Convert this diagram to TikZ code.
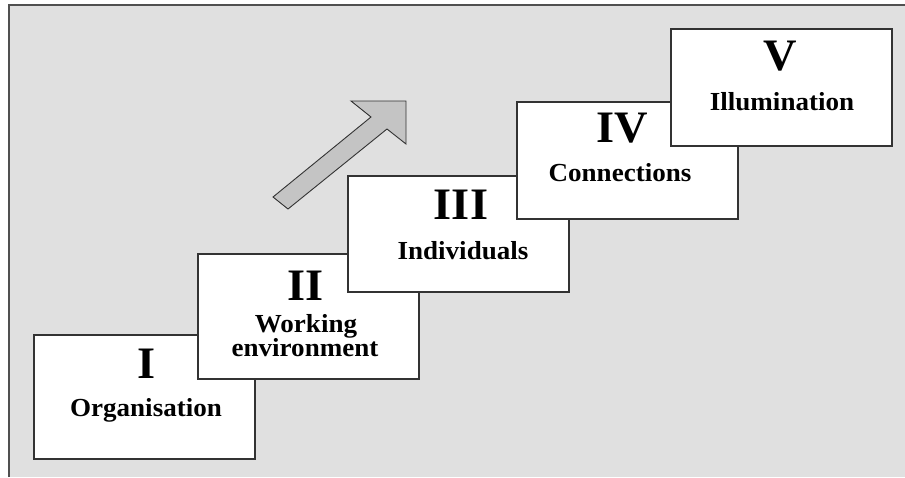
\documentclass[tikz,border=0pt]{standalone}
\usepackage{fontspec}
\setmainfont{Liberation Serif}
\definecolor{bgcol}{HTML}{E0E0E0}
\definecolor{arrowfill}{HTML}{C4C4C4}
\definecolor{boxline}{HTML}{333333}
\definecolor{framecol}{HTML}{505050}
\begin{document}
\begin{tikzpicture}[x=1pt,y=-1pt,
  stage/.style={draw=boxline,line width=1.5pt,fill=white,rectangle,inner sep=0pt,anchor=north west,minimum width=221pt},
  numeral/.style={font=\fontsize{45}{45}\selectfont\bfseries,anchor=base,inner sep=0pt,xscale=1.03},
  stagetext/.style={font=\fontsize{26}{26}\selectfont\bfseries,anchor=base,inner sep=0pt,xscale=1.04},
  bigarrow/.style={fill=arrowfill,draw=boxline,line width=0.9pt,line join=miter}]
\useasboundingbox (0,0) rectangle (905,477);
\fill[white] (0,0) rectangle (905,477);
\fill[bgcol] (9,5) rectangle (905,477);
\draw[framecol,line width=2pt] (9,477) -- (9,5) -- (905,5);

% arrow
\draw[bigarrow] (273,197) -- (371,117) -- (351,101) -- (406,101) -- (406,144) -- (387,129) -- (288,209) -- cycle;

% stage I
\node[stage,minimum height=124pt] (b1) at (33,334) {};
\node[numeral] (n1) at (147,378) {I};
\node[stagetext] (t1) at (146,416) {Organisation};

% stage II
\node[stage,minimum height=125pt] (b2) at (197,253) {};
\node[numeral] (n2) at (306,300) {II};
\node[stagetext] (t2a) at (306,332) {Working};
\node[stagetext] (t2b) at (305,356) {environment};

% stage III
\node[stage,minimum height=116pt] (b3) at (347,175) {};
\node[numeral] (n3) at (461,219) {III};
\node[stagetext] (t3) at (463,259) {Individuals};

% stage IV
\node[stage,minimum height=117pt] (b4) at (516,101) {};
\node[numeral] (n4) at (622,142) {IV};
\node[stagetext] (t4) at (620,181) {Connections};

% stage V
\node[stage,minimum height=117pt] (b5) at (670,28) {};
\node[numeral] (n5) at (780,70) {V};
\node[stagetext] (t5) at (782,110) {Illumination};
\end{tikzpicture}
\end{document}
